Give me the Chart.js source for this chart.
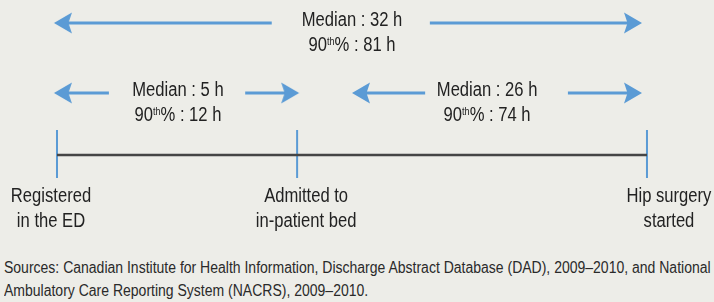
<!DOCTYPE html>
<html lang="en">
<head>
<meta charset="UTF-8">
<title>Wait times for hip fracture surgery</title>
<script src="https://cdn.jsdelivr.net/npm/chart.js"></script>
<style>
  html, body { margin: 0; padding: 0; background: #edede8; }
  #wrap { position: relative; width: 714px; height: 302px; overflow: hidden; }
  #chartBox { position: absolute; left: 0; top: 0; width: 714px; height: 250px; }
  #sources {
    position: absolute; left: 4px; top: 256px; width: 900px;
    font: 16px "Liberation Sans", Arial, sans-serif;
    line-height: 23px; color: #2a2a2a; white-space: nowrap;
    transform: scaleX(0.875); transform-origin: 0 0;
  }
</style>
</head>
<body>
<div id="wrap">
  <div id="chartBox"><canvas id="timeline"></canvas></div>
  <div id="sources">Sources: Canadian Institute for Health Information, Discharge Abstract Database (DAD), 2009–2010, and National<br>Ambulatory Care Reporting System (NACRS), 2009–2010.</div>
</div>
<script>
// milestones on the patient pathway, placed on a 0-100 timeline
const eventNames = [['Registered', 'in the ED'], ['Admitted to', 'in-patient bed'], ['Hip surgery', 'started']];
const eventPos = [0, 40.7, 100];

// intervals between milestones, hours
const intervalNames = ['ED to admission', 'Admission to surgery', 'ED to surgery'];
const medianHours = [5, 26, 32];
const p90Hours = [12, 74, 81];
// arrow extents per interval: [left shaft end, left tail, right tail, right shaft end]
const arrowSpans = [[0.34, 8.8, 31.9, 40.2], [50.85, 62.4, 86.6, 98.3], [0.34, 36.4, 63.2, 98.3]];
const labelPos = [20.5, 72.9, 50];

// vertical layout (y scale runs top-down)
const arrowRow = [93, 93, 23];
const lineY = 155;
const tickTop = 130, tickBottom = 178;
const eventLabelShift = [-6, 9, 22];

const blue = '#5b9bd5';
const textColor = '#222222';
const fontFamily = '"Liberation Sans", Arial, sans-serif';
const SX = 0.83; // horizontal squeeze to mimic a condensed face

// arrowhead image, pointing right, tip 5px ahead of the point it is drawn on
function makeHead() {
    const c = document.createElement('canvas');
    c.width = 38; c.height = 24;
    const g = c.getContext('2d');
    g.fillStyle = blue;
    g.beginPath();
    g.moveTo(24, 12);
    g.lineTo(6, 1.5);
    g.lineTo(9.5, 12);
    g.lineTo(6, 22.5);
    g.closePath();
    g.fill();
    return c;
}
const head = makeHead();

const datasets = [];

// base timeline
datasets.push({
    data: [{ x: eventPos[0], y: lineY }, { x: eventPos[eventPos.length - 1], y: lineY }],
    borderColor: '#454545',
    borderWidth: 2.5,
    pointRadius: 0,
    showLine: true
});

// milestone ticks
datasets.push({
    data: eventPos.flatMap(p => [{ x: p, y: tickTop }, { x: p, y: tickBottom }, { x: p, y: null }]),
    borderColor: blue,
    borderWidth: 2,
    pointRadius: 0,
    showLine: true,
    spanGaps: false
});

// interval arrows
arrowSpans.forEach((s, i) => {
    const y = arrowRow[i];
    [[s[1], s[0], 180], [s[2], s[3], 0]].forEach(([tail, tip, rot]) => {
        datasets.push({
            data: [{ x: tail, y: y }, { x: tip, y: y }],
            borderColor: blue,
            backgroundColor: blue,
            borderWidth: 3,
            showLine: true,
            pointRadius: [0, 10],
            pointStyle: head,
            rotation: [0, rot]
        });
    });
});

function squeezed(ctx, str, x, y, font) {
    ctx.save();
    ctx.font = font;
    ctx.translate(x, y);
    ctx.scale(SX, 1);
    ctx.fillText(str, 0, 0);
    ctx.restore();
}

function widthOf(ctx, str, font) {
    ctx.font = font;
    return ctx.measureText(str).width * SX;
}

function drawP90(ctx, cx, base, value) {
    const big = '20px ' + fontFamily;
    const small = '11px ' + fontFamily;
    const a = '90', b = 'th', c = `% : ${value} h`;
    const wa = widthOf(ctx, a, big), wb = widthOf(ctx, b, small), wc = widthOf(ctx, c, big);
    const x0 = cx - (wa + wb + wc) / 2;
    ctx.textAlign = 'left';
    squeezed(ctx, a, x0, base, big);
    squeezed(ctx, b, x0 + wa, base - 6, small);
    squeezed(ctx, c, x0 + wa + wb, base, big);
}

const textPlugin = {
    id: 'timelineText',
    afterDatasetsDraw(chart) {
        const { ctx, scales: { x, y } } = chart;
        const big = '20px ' + fontFamily;
        ctx.save();
        ctx.fillStyle = textColor;
        ctx.textBaseline = 'alphabetic';
        intervalNames.forEach((name, i) => {
            const cx = x.getPixelForValue(labelPos[i]);
            const ry = y.getPixelForValue(arrowRow[i]);
            ctx.textAlign = 'center';
            squeezed(ctx, `Median : ${medianHours[i]} h`, cx, ry + 3, big);
            drawP90(ctx, cx, ry + 28, p90Hours[i]);
        });
        ctx.textAlign = 'center';
        const top = y.getPixelForValue(tickBottom);
        eventNames.forEach((lines, i) => {
            const cx = x.getPixelForValue(eventPos[i]) + eventLabelShift[i];
            lines.forEach((t, j) => squeezed(ctx, t, cx, top + 24 + j * 25, big));
        });
        ctx.restore();
    }
};

new Chart(document.getElementById('timeline'), {
    type: 'scatter',
    data: { datasets },
    options: {
        responsive: true,
        maintainAspectRatio: false,
        animation: false,
        layout: { padding: 0, autoPadding: false },
        scales: {
            x: { type: 'linear', min: -9.66, max: 111.36, display: false },
            y: { type: 'linear', min: 0, max: 250, reverse: true, display: false }
        },
        plugins: {
            legend: { display: false },
            tooltip: { enabled: false }
        }
    },
    plugins: [textPlugin]
});
</script>
</body>
</html>
